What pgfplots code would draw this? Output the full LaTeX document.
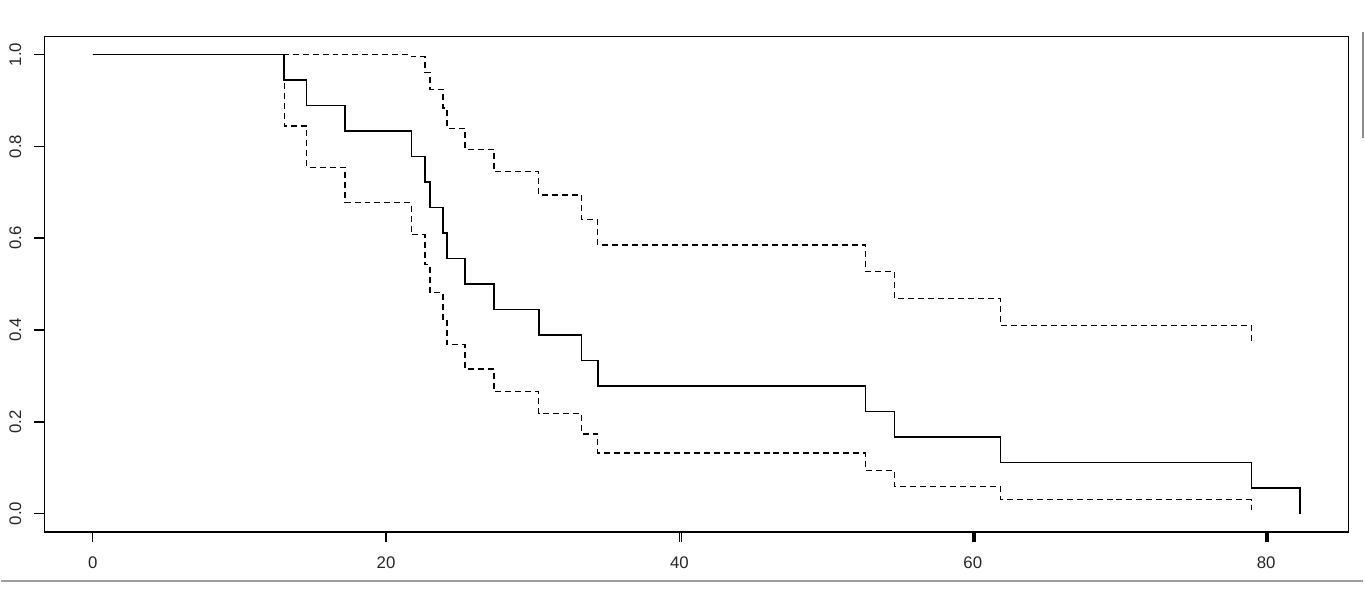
\documentclass[border=0pt]{standalone}
\usepackage{pgfplots}
\pgfplotsset{compat=1.18}
\usepackage{fontspec}
\setmainfont{Liberation Sans}
\begin{document}
\begin{tikzpicture}
\draw[line width=1pt, color=black!38] (0,11.2pt) -- (681.5pt,11.2pt);
\draw[line width=1pt, color=black!45] (681.7pt,233pt) -- (681.7pt,286pt);
\path (0,0) rectangle (682.5pt,302pt);
\begin{axis}[
  name=ax,
  at={(21.65pt,35.85pt)}, anchor=south west,
  scale only axis, width=652.5pt, height=248pt,
  xmin=-3.3, xmax=85.6, ymin=-0.04, ymax=1.04,
  axis line style={line width=0.6pt, black},
  tick pos=left,
  tick align=outside,
  major tick length=5pt,
  tick style={black, line width=0.8pt},
  xtick={0,20,40,60,80},
  ytick={0,0.2,0.4,0.6,0.8,1.0},
  yticklabels={0.0,0.2,0.4,0.6,0.8,1.0},
  xticklabels={0,20,40,60,80},
  tick label style={font=\fontsize{8.4}{10}\selectfont, text=black!85, inner sep=0pt},
  xticklabel style={anchor=north, yshift=-7.2pt},
  yticklabel style={xshift=-6.3pt, rotate=90, anchor=south},
  clip=false,
]
% Kaplan-Meier estimate
\addplot[const plot, black, line width=0.65pt] coordinates {
(0,1.0) (13.05,0.9444) (14.6,0.8889) (17.2,0.8333) (21.73,0.7778)
(22.66,0.7222) (23.0,0.6667) (23.88,0.6111) (24.16,0.5556) (25.38,0.5)
(27.36,0.4444) (30.42,0.3889) (33.34,0.3333) (34.44,0.2778) (52.68,0.2222)
(54.66,0.1667) (61.88,0.1111) (79.0,0.0556) (82.31,0) (82.31,0)};
% upper confidence limit
\addplot[const plot, black, line width=0.6pt, dash pattern=on 3pt off 2pt] coordinates {
(0,1.0) (13.05,1.0) (14.6,1.0) (17.2,1.0) (21.73,0.9957)
(22.66,0.9618) (23.0,0.9243) (23.88,0.8835) (24.16,0.8398) (25.38,0.7936)
(27.36,0.7450) (30.42,0.6940) (33.34,0.6407) (34.44,0.5850) (52.68,0.5274)
(54.66,0.4683) (61.88,0.4104) (79.0,0.3732) (79.0,0.3732)};
% lower confidence limit
\addplot[const plot, black, line width=0.6pt, dash pattern=on 3pt off 2pt] coordinates {
(0,1.0) (13.05,0.8443) (14.6,0.7549) (17.2,0.6778) (21.73,0.6076)
(22.66,0.5423) (23.0,0.4809) (23.88,0.4227) (24.16,0.3675) (25.38,0.3150)
(27.36,0.2652) (30.42,0.2179) (33.34,0.1734) (34.44,0.1319) (52.68,0.0936)
(54.66,0.0593) (61.88,0.0301) (79.0,0.0083) (79.0,0.0083)};
\end{axis}
% tick marks (axis decoration)
\begin{scope}[shift={(ax.south west)}, line width=0.8pt, black]
\draw (24.22pt,0) -- (24.22pt,-5pt);
\draw (171.02pt,0) -- (171.02pt,-5pt);
\draw (318.81pt,0) -- (318.81pt,-5pt);
\draw (465.6pt,0) -- (465.6pt,-5pt);
\draw (612.4pt,0) -- (612.4pt,-5pt);
\draw (0,9.19pt) -- (-5pt,9.19pt);
\draw (0,55.11pt) -- (-5pt,55.11pt);
\draw (0,101.04pt) -- (-5pt,101.04pt);
\draw (0,146.96pt) -- (-5pt,146.96pt);
\draw (0,192.89pt) -- (-5pt,192.89pt);
\draw (0,238.81pt) -- (-5pt,238.81pt);
\end{scope}
\end{tikzpicture}
\end{document}
